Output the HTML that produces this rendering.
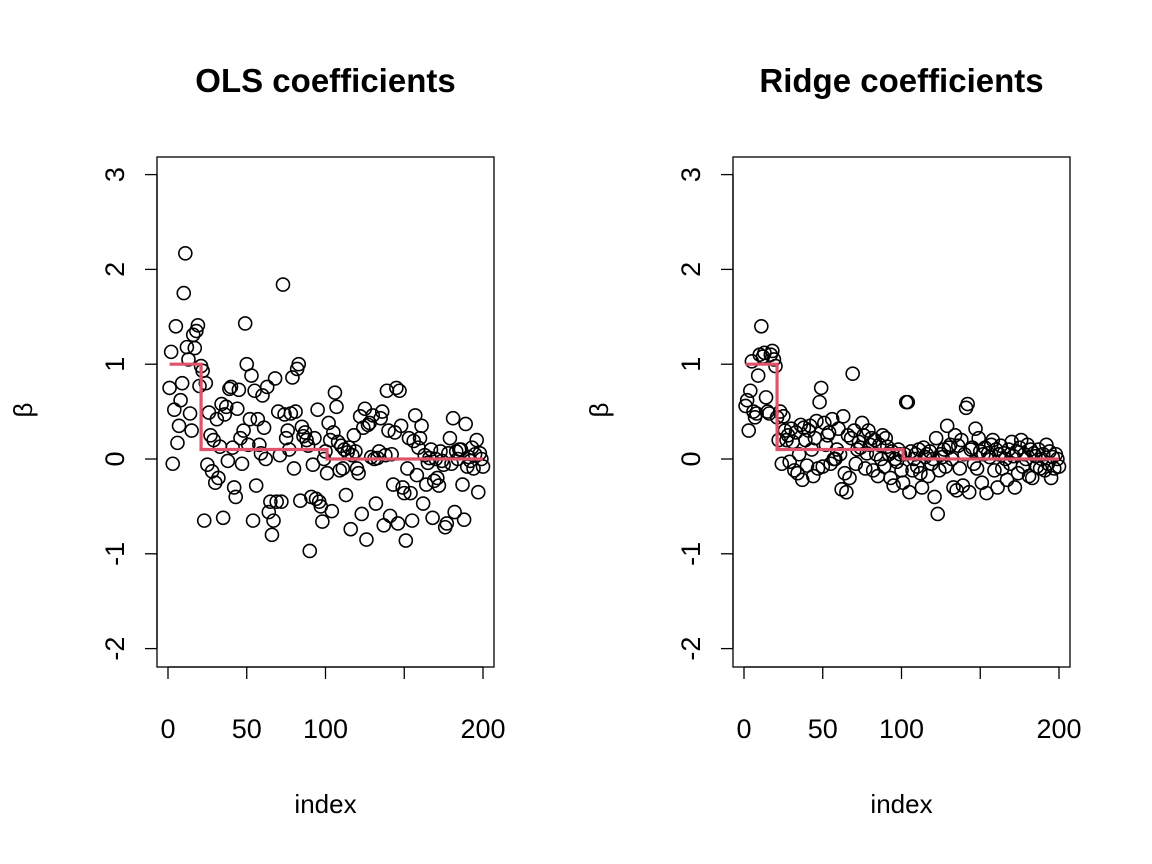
<!DOCTYPE html>
<html><head><meta charset="utf-8"><style>
body{margin:0;background:#fff}
svg{display:block;font-family:"Liberation Sans",Arial,sans-serif}
</style></head><body>
<svg id="s" width="1152" height="864" viewBox="0 0 1152 864"></svg>
<script>
const xTicks=[0,50,100,150,200];
const xTickLabels=["0","50","100","","200"];
const yTicks=[-2,-1,0,1,2,3];
const yTickLabels=["-2","-1","0","1","2","3"];
const trueCoefs=[];for(let i=1;i<=200;i++)trueCoefs.push(i<=20?1:(i<=100?0.1:0));
const olsCoefs=[0.75,1.13,-0.05,0.52,1.4,0.17,0.35,0.62,0.8,1.75,2.17,1.18,1.05,0.48,0.3,1.31,1.17,1.35,1.41,0.77,
0.98,0.93,-0.65,0.8,-0.06,0.49,0.25,-0.13,0.2,-0.25,0.42,-0.2,0.13,0.58,-0.62,0.47,0.55,-0.02,0.74,0.76,
0.12,-0.3,-0.4,0.53,0.73,0.22,-0.05,0.3,1.43,1.0,0.15,0.42,0.88,-0.65,0.72,-0.28,0.42,0.15,0.06,0.67,
0.33,0.0,0.76,-0.56,-0.45,-0.8,-0.65,0.85,-0.45,0.5,0.04,-0.45,1.84,0.47,0.22,0.3,0.1,0.48,0.86,-0.1,
0.5,0.95,1.0,-0.44,0.34,0.24,0.28,0.2,0.14,-0.97,-0.4,-0.06,0.22,-0.42,0.52,-0.45,-0.5,-0.66,0.0,0.08,
-0.15,0.38,0.2,-0.55,0.28,0.7,0.55,0.18,-0.12,0.14,-0.1,0.1,-0.38,0.07,0.12,-0.74,0.04,0.25,0.08,-0.1,
-0.15,0.45,-0.58,0.33,0.53,-0.85,0.36,0.38,0.02,0.46,0.0,-0.47,0.01,0.08,0.43,0.5,-0.7,0.04,0.72,0.3,
-0.6,0.05,-0.27,0.28,0.75,-0.68,0.72,0.35,-0.3,-0.36,-0.86,-0.1,0.22,-0.36,-0.65,0.19,0.46,-0.17,0.12,0.22,
0.35,-0.47,0.04,-0.27,-0.04,0.01,0.1,-0.62,-0.23,0.0,-0.2,-0.28,0.08,-0.02,-0.06,-0.72,-0.68,0.06,0.22,-0.05,
0.43,-0.56,0.08,0.0,0.1,0.1,-0.27,-0.64,0.37,-0.08,0.02,-0.02,0.12,-0.1,0.05,0.2,-0.35,0.06,0.0,-0.08];
const ridgeCoefs=[0.56,0.62,0.3,0.72,1.03,0.5,0.44,0.48,0.88,1.1,1.4,1.08,1.12,0.65,0.5,0.48,1.1,1.14,1.05,0.98,
0.44,0.2,0.5,-0.05,0.45,0.3,0.2,0.25,-0.03,0.32,0.18,-0.12,0.28,-0.15,0.05,0.36,-0.22,0.33,0.2,-0.07,
0.3,0.35,0.1,-0.18,0.22,0.4,-0.1,0.6,0.75,-0.08,0.38,0.15,0.25,0.28,-0.05,0.42,0.0,0.0,0.1,0.32,
0.05,-0.32,0.45,-0.15,-0.35,0.25,-0.2,0.22,0.9,0.3,-0.05,0.1,0.18,0.12,0.38,0.25,-0.1,0.06,0.3,0.15,
0.22,-0.12,0.2,0.05,-0.18,0.15,0.0,0.25,-0.08,0.22,0.13,0.05,-0.2,0.08,-0.28,0.0,-0.03,0.1,0.05,-0.12,
-0.25,0.05,0.6,0.6,-0.35,0.08,-0.12,0.0,0.05,-0.08,0.1,-0.15,-0.3,0.12,0.02,0.05,-0.18,0.08,-0.05,0.0,
-0.4,0.22,-0.58,-0.12,0.05,0.02,0.1,-0.08,0.35,0.12,0.15,0.0,-0.3,0.25,-0.33,0.14,-0.1,0.2,-0.28,0.05,
0.54,0.58,-0.35,0.1,0.12,-0.05,0.32,-0.1,0.22,0.08,-0.25,0.05,0.12,-0.36,0.06,0.02,0.15,0.2,-0.12,0.1,
-0.3,0.05,0.14,-0.1,0.06,0.0,-0.22,0.1,-0.05,0.18,0.03,-0.3,0.08,-0.15,0.12,0.2,-0.08,0.05,0.0,0.15,
-0.18,0.1,-0.2,0.06,0.03,-0.08,0.1,-0.1,0.0,0.05,-0.12,0.15,-0.05,0.08,-0.2,0.02,-0.1,0.05,0.0,-0.08];

const NS="http://www.w3.org/2000/svg";
const svg=document.getElementById('s');
function mk(tag,attrs,parent){const e=document.createElementNS(NS,tag);for(const k in attrs)e.setAttribute(k,attrs[k]);(parent||svg).appendChild(e);return e;}

function panel(name,title,vals,bx){
  const g=mk('g',{});
  
  
  const L=bx,R=bx+337,T=157,B=667;
  const x=v=>L+11+v*(315/200);
  const y=v=>459-v*94.8;
  const box=mk('rect',{x:L,y:T,width:R-L,height:B-T,fill:'none',stroke:'#000','stroke-width':1.3},g);
  
  
  const t=mk('text',{x:(L+R)/2,y:92,'text-anchor':'middle','font-size':33,'font-weight':'bold'},g);
  t.textContent=title;
  
  
  const xa=mk('g',{},g);
  
  
  mk('line',{x1:x(xTicks[0]),x2:x(xTicks[xTicks.length-1]),y1:B,y2:B,stroke:'#000','stroke-width':1.3},xa);
  xTicks.forEach((v,i)=>{
    mk('line',{x1:x(v),x2:x(v),y1:B,y2:B+12,stroke:'#000','stroke-width':1.3},xa);
    const l=mk('text',{x:x(v),y:738,'text-anchor':'middle','font-size':27},xa);
    l.textContent=xTickLabels[i];
    
    
  });
  const xt=mk('text',{x:(L+R)/2,y:813,'text-anchor':'middle','font-size':26},g);
  xt.textContent='index';
  
  
  const ya=mk('g',{},g);
  
  
  mk('line',{x1:L,x2:L,y1:y(yTicks[0]),y2:y(yTicks[yTicks.length-1]),stroke:'#000','stroke-width':1.3},ya);
  yTicks.forEach((v,i)=>{
    mk('line',{x1:L-12,x2:L,y1:y(v),y2:y(v),stroke:'#000','stroke-width':1.3},ya);
    const l=mk('text',{x:L-33,y:y(v),'text-anchor':'middle','font-size':27,transform:`rotate(-90 ${L-33} ${y(v)})`},ya);
    l.textContent=yTickLabels[i];
    
    
  });
  const yt=mk('text',{x:L-125,y:410,'text-anchor':'middle','font-size':26,transform:`rotate(-90 ${L-125} 410)`},g);
  yt.textContent='β';
  
  
  const pts=mk('g',{},g);
  
  
  vals.forEach((v,i)=>{
    const c=mk('circle',{cx:x(i+1),cy:y(v),r:6.5,fill:'none',stroke:'#000','stroke-width':1.6},pts);
    
    
  });
  let d='';
  trueCoefs.forEach((v,i)=>{
    if(i===0)d+=`M${x(1)},${y(v)}`;
    else d+=`H${x(i+1)}V${y(v)}`;
  });
  const ln=mk('path',{d:d,fill:'none',stroke:'#DF536B','stroke-width':3.2},g);
  
  
}
panel('ols','OLS coefficients',olsCoefs,157);
panel('ridge','Ridge coefficients',ridgeCoefs,733);
</script>
</body></html>
